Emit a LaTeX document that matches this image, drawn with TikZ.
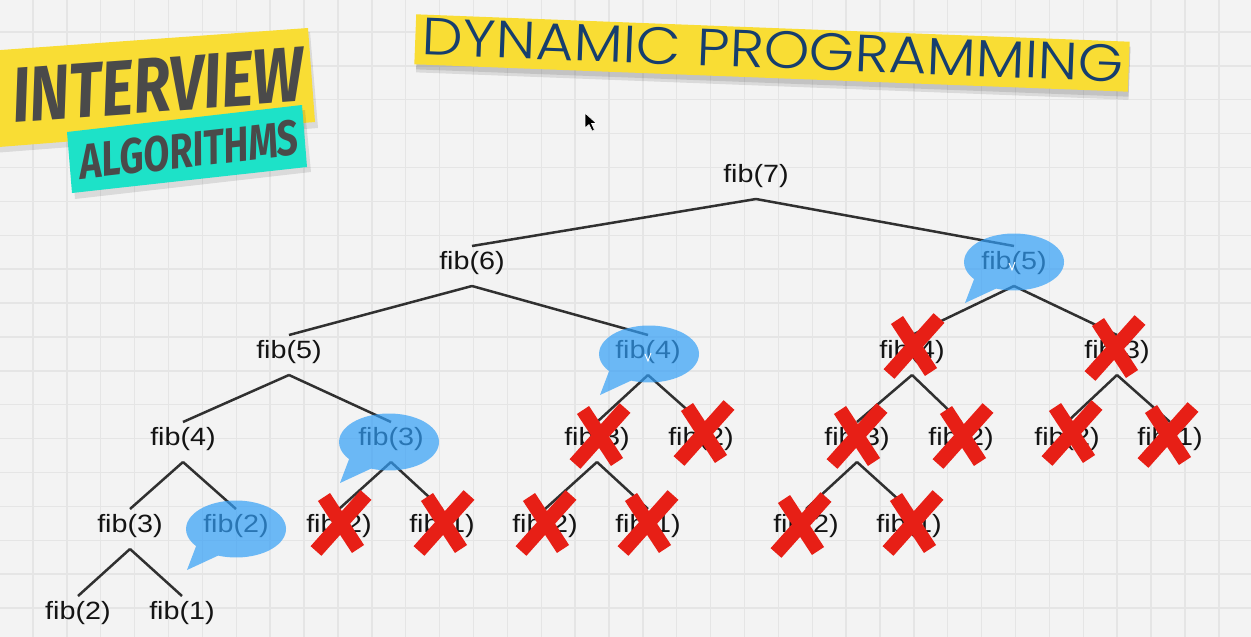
\documentclass[tikz,border=0pt]{standalone}
\usepackage{fontspec}
\setmainfont{Liberation Sans}
\newfontfamily\titlefont{Poppins Light}
\newfontfamily\logofont{Fira Sans}[BoldFeatures={FakeBold=1.3}]
\definecolor{bgcol}{RGB}{243,243,243}
\definecolor{gridcol}{RGB}{229,229,229}
\definecolor{bubbleblue}{RGB}{50,159,247}
\definecolor{crossred}{RGB}{231,31,22}
\definecolor{logoyellow}{RGB}{249,221,52}
\definecolor{logocyan}{RGB}{29,226,200}
\definecolor{logotext}{RGB}{74,74,74}
\definecolor{titleblue}{RGB}{22,62,110}
\definecolor{treeline}{RGB}{48,48,48}
\newcommand\fb[1]{\scalebox{1.15}[1]{fib(#1)}}
\newcommand\speech[2]{%
  \fill[bubble] ({#1-17.9},{#2+26.6}) arc[start angle=111, end angle=-217, x radius=50, y radius=28.5] -- ({#1-49},{#2+41}) -- cycle;}
\newcommand\curs[2]{%
  \draw[white, line width=0.9pt] ({#1-3},{#2-2}) -- ({#1},{#2+5}) -- ({#1+3},{#2-3});}
\newcommand\crossout[2]{%
  \draw[crossstroke] ({#1-17},{#2-26}) -- ({#1+17},{#2+26});
  \draw[crossstroke] ({#1+25},{#2-28}) -- ({#1-25},{#2+28});}
\begin{document}
\begin{tikzpicture}[x=1pt,y=-1pt,
  fibtext/.style={font=\fontsize{25}{25}\selectfont, text=black!92, inner sep=0pt},
  edge/.style={draw=treeline, line width=2.5pt},
  bubble/.style={fill=bubbleblue, fill opacity=0.7},
  crossstroke/.style={draw=crossred, line width=14.5pt},
  shade/.style={fill=black, fill opacity=0.10},
]
\fill[bgcol] (0,0) rectangle (1251,637);
\useasboundingbox (0,0) rectangle (1251,637);
% grid
\foreach \i in {0,...,36} \draw[gridcol, line width=1.4pt] ({33+\i*33.88},0) -- ++(0,637);
\foreach \j in {-1,...,18} \draw[gridcol, line width=1.4pt] (0,{32+\j*33.88}) -- ++(1251,0);

% ---- logo ----
\fill[shade] (-20,55) -- (310,32) -- (318,128) -- (-20,154) -- cycle;
\fill[logoyellow] (-20,51.5) -- (308,28) -- (315,122) -- (-20,148.5) -- cycle;
\node[rotate=4.2, text=logotext, inner sep=0pt] (iv) at (158,85)
  {\resizebox{292pt}{54pt}{\logofont\bfseries\itshape INTERVIEW}};
\fill[shade] (70,137) -- (305,110) -- (311,172) -- (75,199) -- cycle;
\fill[logocyan] (67,132) -- (302,105) -- (307,167) -- (72,193) -- cycle;
\node[rotate=6.5, text=logotext, inner sep=0pt] (al) at (189,150)
  {\resizebox{220pt}{35pt}{\logofont\bfseries\itshape ALGORITHMS}};

% ---- title ----
\begin{scope}[shift={(772,53)}, rotate=-2.2]
  \fill[shade] (-355,-20) rectangle (358,33);
  \fill[shade] (-355,-20) rectangle (358,30);
  \fill[logoyellow] (-357,-25) rectangle (357,25);
\end{scope}
\node[rotate=-2.2, text=titleblue, inner sep=0pt] (title) at (773,50)
  {\resizebox{702pt}{37pt}{\titlefont DYNAMIC PROGRAMMING}};

% cursor
\fill[black, draw=white, line width=0.6pt] (585,113) -- (585,128) -- (589,124.5) -- (592,131) -- (594.5,130) -- (591.5,123.5) -- (596.5,123.5) -- cycle;

% ---- tree ----
\node[fibtext] (n7) at (756,176) {\fb7};
\node[fibtext] (n6) at (472,263) {\fb6};
\node[fibtext] (r5) at (1014,263) {\fb5};
\node[fibtext] (l5) at (289,352) {\fb5};
\node[fibtext] (m4) at (648,352) {\fb4};
\node[fibtext] (r4) at (912,352) {\fb4};
\node[fibtext] (r3) at (1117,352) {\fb3};
\node[fibtext] (l4) at (183,439) {\fb4};
\node[fibtext] (b3) at (391,439) {\fb3};
\node[fibtext] (m3) at (597,439) {\fb3};
\node[fibtext] (m2) at (701,439) {\fb2};
\node[fibtext] (q3) at (857,439) {\fb3};
\node[fibtext] (q2) at (961,439) {\fb2};
\node[fibtext] (s2) at (1067,439) {\fb2};
\node[fibtext] (s1) at (1170,439) {\fb1};
\node[fibtext] (l3) at (130,526) {\fb3};
\node[fibtext] (b2) at (236,526) {\fb2};
\node[fibtext] (a2) at (339,526) {\fb2};
\node[fibtext] (a1) at (442,526) {\fb1};
\node[fibtext] (c2) at (545,526) {\fb2};
\node[fibtext] (c1) at (648,526) {\fb1};
\node[fibtext] (d2) at (806,526) {\fb2};
\node[fibtext] (d1) at (909,526) {\fb1};
\node[fibtext] (e2) at (78,613) {\fb2};
\node[fibtext] (e1) at (182,613) {\fb1};

\foreach \p/\c in {n7/n6, n7/r5, n6/l5, n6/m4, r5/r4, r5/r3, l5/l4, l5/b3,
  m4/m3, m4/m2, r4/q3, r4/q2, r3/s2, r3/s1, l4/l3, l4/b2, b3/a2, b3/a1,
  m3/c2, m3/c1, q3/d2, q3/d1, l3/e2, l3/e1}
  \draw[edge] ([yshift=-23pt]\p.center) -- ([yshift=17pt]\c.center);

% speech bubbles
\speech{1014}{262}
\speech{649}{354}
\speech{389}{442}
\speech{236}{529}
\curs{1012}{265}
\curs{648}{356}

% crosses
\crossout{914}{346}
\crossout{1115}{348}
\crossout{600}{436}
\crossout{704}{433}
\crossout{857}{436}
\crossout{963}{436}
\crossout{1072}{433}
\crossout{1168}{435}
\crossout{341}{523}
\crossout{444}{523}
\crossout{546}{523}
\crossout{648}{523}
\crossout{801}{525}
\crossout{913}{523}
\end{tikzpicture}
\end{document}
